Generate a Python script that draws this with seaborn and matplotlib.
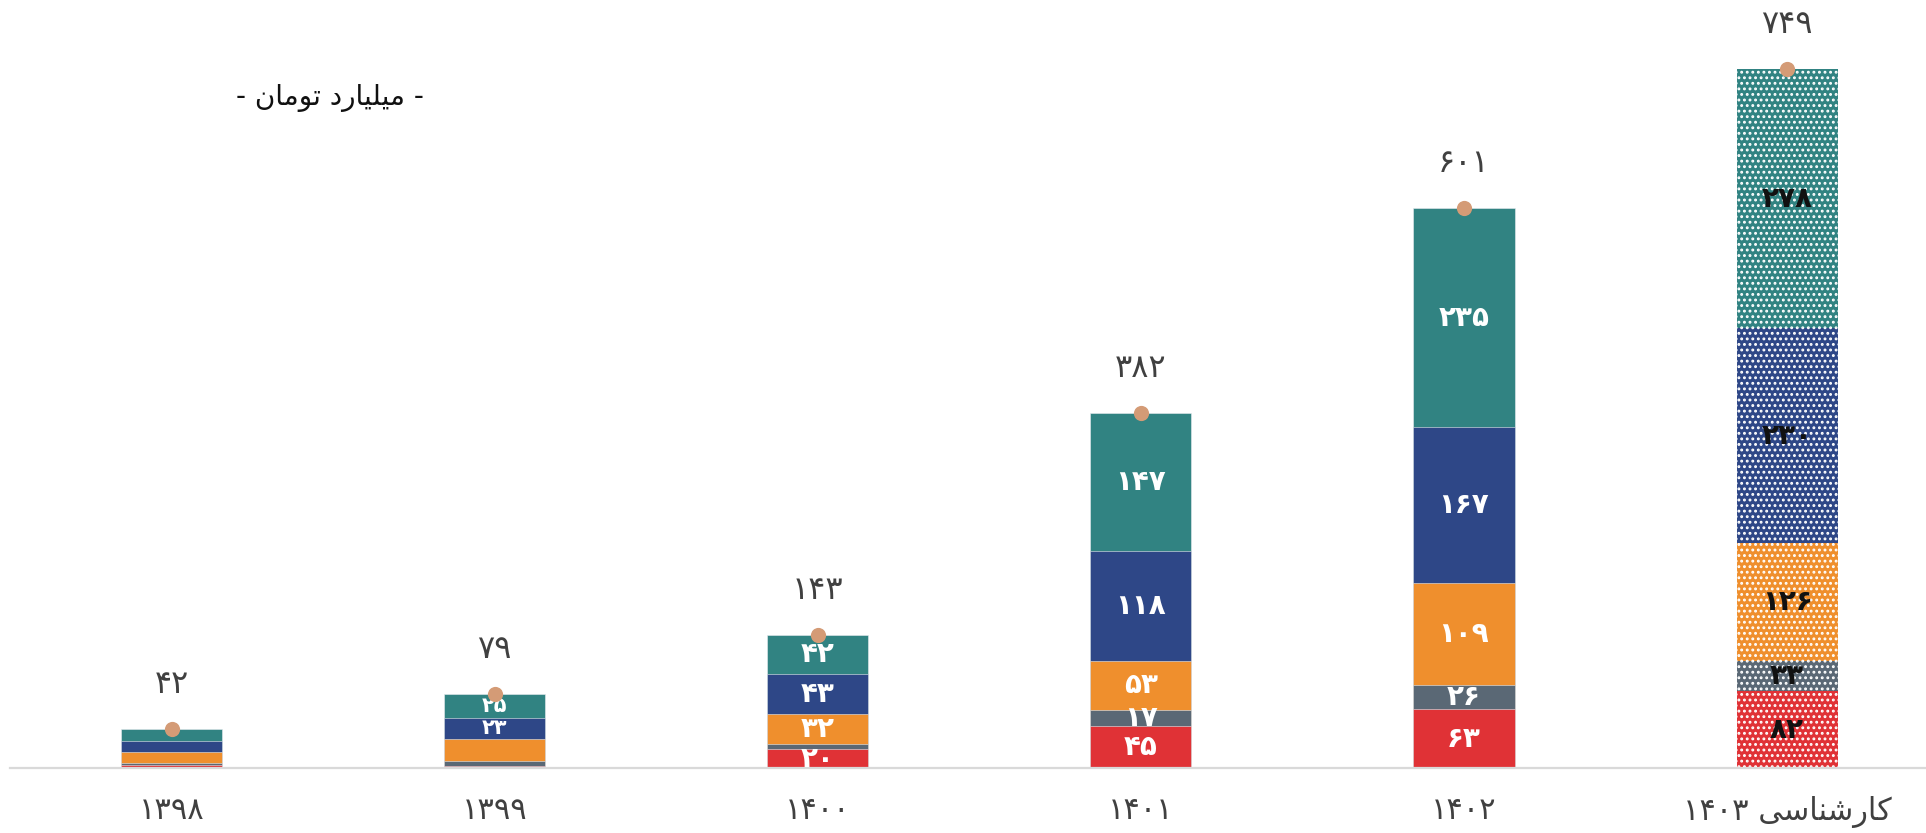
import numpy as np
import pandas as pd
import matplotlib.pyplot as plt
import seaborn as sns

# Persian digits
FA = str.maketrans('0123456789', '۰۱۲۳۴۵۶۷۸۹')


def fa(n):
    return str(n).translate(FA)


# matplotlib has no Arabic shaping, so the words are written with the
# presentation forms in visual (left to right) order.
# 'کارشناسی'
KARSHENASI = '\uFEF0\uFEB3\uFE8E\uFEE8\uFEB7\uFEAD\uFE8E\uFB90'
# '- میلیارد تومان -'
UNIT = '- ' + '\uFEE5\uFE8E\uFEE3\uFEEE\uFE97' + ' ' + \
       '\uFEA9\uFEAD\uFE8E\uFEF4\uFEE0\uFEF4\uFEE3' + ' -'

# data (billion toman), stacked bottom -> top
years = ['۱۳۹۸', '۱۳۹۹', '۱۴۰۰', '۱۴۰۱', '۱۴۰۲', '۱۴۰۳ ' + KARSHENASI]
red = [3, 2, 20, 45, 63, 82]
gray = [2, 5, 6, 17, 26, 33]
orange = [12, 24, 32, 53, 109, 126]
navy = [12, 23, 43, 118, 167, 230]
teal = [13, 25, 42, 147, 235, 278]
totals = [42, 79, 143, 382, 601, 749]

series = [('red', red, '#E03236'),
          ('gray', gray, '#5A6875'),
          ('orange', orange, '#EF8F2D'),
          ('navy', navy, '#2E4787'),
          ('teal', teal, '#318382')]
hidden_labels = [('orange', 1)]

sns.set_style('white')
plt.rcParams['font.family'] = ['DejaVu Sans']
plt.rcParams['hatch.linewidth'] = 1.3

fig = plt.figure(figsize=(19.26, 8.33), dpi=100)
ax = fig.add_axes([10 / 1926, 65 / 833, 1 - 10 / 1926, 746.6 / 833])

vals = np.array([s[1] for s in series], dtype=float)
cum = vals.cumsum(axis=0)

# draw cumulative heights from the top layer down so each layer overdraws
for k in range(len(series) - 1, -1, -1):
    name, _, color = series[k]
    df = pd.DataFrame({'year': years, 'value': cum[k]})
    n_before = len(ax.patches)
    sns.barplot(data=df, x='year', y='value', color=color, saturation=1,
                width=0.313, edgecolor='#e8ecef', linewidth=0.4, ax=ax)
    last = ax.patches[n_before:][-1]
    last.set_hatch('...')
    last.set_edgecolor('white')
    last.set_linewidth(0)

# segment labels (the 1399 bar is short, so its labels are a bit smaller)
for k, (name, v, color) in enumerate(series):
    for i, val in enumerate(v):
        if val < 17 or (name, i) in hidden_labels:
            continue
        y = cum[k][i] - val / 2
        ax.text(i, y, fa(val), ha='center', va='center',
                fontsize=15 if i == 1 else 20, fontweight='bold',
                color='white' if i < 5 else '#111111')

# totals: dot on top of the bar and the value above it
tops = cum[-1]
ax.scatter(np.arange(len(years)), tops, s=120, color='#D49B76', zorder=5,
           clip_on=False, linewidths=0)
for i, t in enumerate(totals):
    ax.annotate(fa(t), (i, tops[i]), xytext=(0, 32), textcoords='offset points',
                ha='center', va='center', fontsize=23, color='#404040')

fig.text(330 / 1926, 1 - 98 / 833, UNIT, ha='center', va='center',
         fontsize=20, color='#111111')

ax.set_xlim(-0.5, 5.43)
ax.set_ylim(0, 800)
ax.set_xlabel('')
ax.set_ylabel('')
ax.set_yticks([])
ax.tick_params(axis='x', length=0, pad=20, labelsize=22, labelcolor='#404040')
for side in ['left', 'top', 'right']:
    ax.spines[side].set_visible(False)
ax.spines['bottom'].set_color('#d9d9d9')
ax.spines['bottom'].set_linewidth(1.6)

fig.savefig('out.png', dpi=100)
